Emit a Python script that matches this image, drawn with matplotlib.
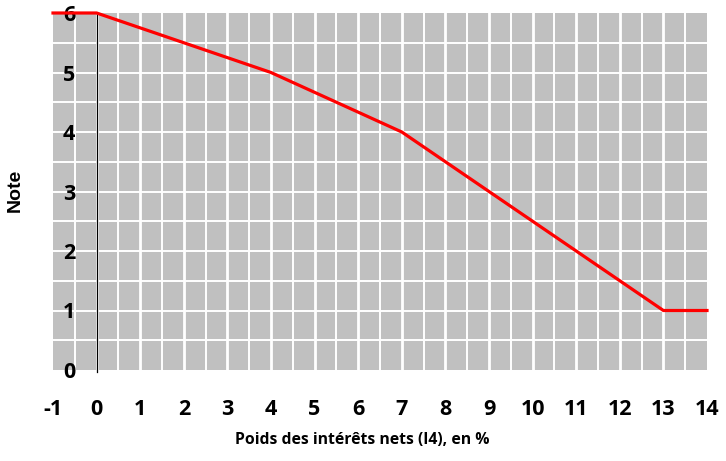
import numpy as np
import matplotlib.pyplot as plt

# Data
poids = [-1, 0, 4, 7, 13, 14]
note = [6, 6, 5, 4, 1, 1]
x_ticks = list(range(-1, 15))
y_ticks = list(range(0, 7))

plt.rcParams['font.family'] = ['Open Sans', 'DejaVu Sans']
plt.rcParams['axes.unicode_minus'] = False

fig = plt.figure(figsize=(7.26, 4.61), dpi=100)
ax = fig.add_axes([53 / 726, 1 - 370 / 461, 654 / 726, 357 / 461])
ax.set_facecolor('#c0c0c0')

ax.set_xlim(-1, 14)
ax.set_ylim(0, 6)

# white grid: integer and half steps
for xv in np.arange(-0.5, 14, 0.5):
    lw = 2.0 if float(xv).is_integer() else 1.4
    ax.axvline(xv, color='white', lw=lw, zorder=1)
for yv in np.arange(0.5, 6, 0.5):
    ax.axhline(yv, color='white', lw=1.4, zorder=1)

# vertical axis at x = 0
ax.plot([0, 0], [-0.04, 6], color='black', lw=0.9, zorder=2, clip_on=False)

ax.plot(poids, note, color='red', lw=2.3, zorder=3, clip_on=False)

for s in ax.spines.values():
    s.set_visible(False)

ax.set_xticks(x_ticks)
ax.set_yticks(y_ticks)
ax.tick_params(length=0)
ax.tick_params(axis='x', pad=21)
ax.tick_params(axis='y', pad=-16)
for lab in ax.get_xticklabels() + ax.get_yticklabels():
    lab.set_fontsize(15.5)
    lab.set_fontweight('bold')
    lab.set_zorder(5)
ax.set_axisbelow(False)

fig.text(362 / 726, 1 - 440 / 461, 'Poids des intérêts nets (I4), en %',
         ha='center', va='center', fontsize=11.3, fontweight='bold')
fig.text(15 / 726, 1 - 190 / 461, 'Note', rotation=90, ha='center', va='center',
         fontsize=14, fontweight='bold', family=['Liberation Sans', 'DejaVu Sans'])

fig.savefig('out.png', dpi=100)
